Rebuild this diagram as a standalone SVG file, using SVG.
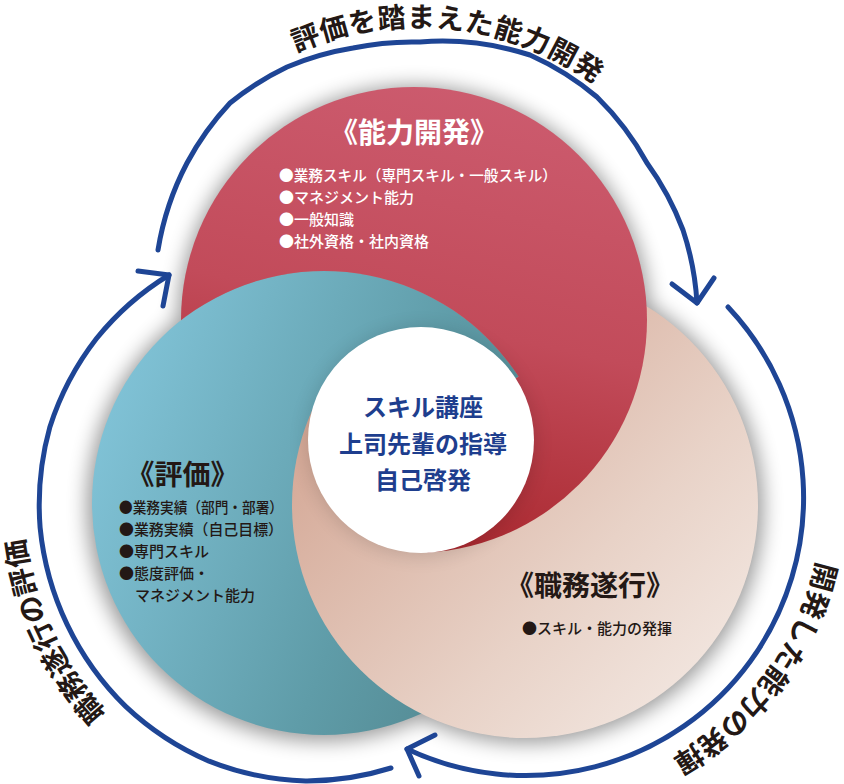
<svg xmlns="http://www.w3.org/2000/svg" width="844" height="784" viewBox="0 0 844 784">
<style>
.lbl{font-family:"Noto Sans CJK JP","Noto Sans",sans-serif;font-weight:700;font-size:28px;fill:#231815}
.ttl{font-family:"Noto Sans CJK JP","Noto Sans",sans-serif;font-weight:700;font-size:28px}
.bul{font-family:"Noto Sans CJK JP","Noto Sans",sans-serif;font-weight:500;font-size:15px}
.ctr{font-family:"Noto Sans CJK JP","Noto Sans",sans-serif;font-weight:700;font-size:24px;fill:#1e3e8e;text-anchor:middle}
.arc{fill:none;stroke:#1e4595;stroke-width:5;stroke-linecap:round;stroke-linejoin:round}
</style>
<defs>
<linearGradient id="gRed" gradientUnits="userSpaceOnUse" x1="480" y1="90" x2="380" y2="553">
<stop offset="0" stop-color="#cc5b6e"/><stop offset="0.5" stop-color="#c24b5a"/><stop offset="1" stop-color="#a8262c"/>
</linearGradient>
<linearGradient id="gBlue" gradientUnits="userSpaceOnUse" x1="100" y1="420" x2="560" y2="600">
<stop offset="0" stop-color="#80c2d6"/><stop offset="0.6" stop-color="#5f9ca8"/><stop offset="1" stop-color="#50848c"/>
</linearGradient>
<linearGradient id="gPink" gradientUnits="userSpaceOnUse" x1="330" y1="330" x2="720" y2="700">
<stop offset="0" stop-color="#d1a18e"/><stop offset="0.65" stop-color="#e8d2c7"/><stop offset="1" stop-color="#f3e8e2"/>
</linearGradient>
<filter id="blur" x="-20%" y="-20%" width="140%" height="140%"><feGaussianBlur stdDeviation="10"/></filter>
<clipPath id="wRed"><polygon points="421,440 806.8,189.5 881,440 746.3,765.3 447.5,899.2"/></clipPath>
<clipPath id="wTeal"><polygon points="421,440 30.9,196.2 191,41.6 421,-20 651,41.6 806.8,189.5"/></clipPath>
<mask id="mPink" maskUnits="userSpaceOnUse" x="0" y="0" width="844" height="784">
<rect width="844" height="784" fill="#fff"/>
<circle cx="414" cy="320" r="233" fill="#000" clip-path="url(#wTeal)"/>
</mask>
<mask id="mRed" maskUnits="userSpaceOnUse" x="0" y="0" width="844" height="784">
<rect width="844" height="784" fill="#fff"/>
<circle cx="324" cy="503" r="232" fill="#000"/>
<circle cx="525" cy="505" r="233" fill="#fff" clip-path="url(#wRed)"/>
</mask>
<path id="pTop" d="M115,330 A303,303 0 0 1 721,330"/>
<path id="pRight" d="M740.1,287.9 A300,300 0 0 1 315.9,712.1"/>
<path id="pLeft" d="M330,809 A307,307 0 0 1 330,195"/>
</defs>
<rect width="844" height="784" fill="#fff"/>
<g id="shadow" filter="url(#blur)" fill="#000" opacity="0.4">
<circle cx="414" cy="322" r="236"/>
<circle cx="322" cy="506" r="235"/>
<circle cx="527" cy="507" r="236"/>
</g>
<g id="node-hyoka">
<circle cx="324" cy="503" r="232" fill="url(#gBlue)"/>
<text class="ttl" x="182.5" y="485" text-anchor="middle" fill="#231815">《評価》</text>
<g class="bul" fill="#231815">
<text x="119" y="513" textLength="164" lengthAdjust="spacingAndGlyphs">●業務実績（部門・部署）</text>
<text x="119" y="535" textLength="164" lengthAdjust="spacingAndGlyphs">●業務実績（自己目標）</text>
<text x="119" y="557">●専門スキル</text>
<text x="119" y="579">●態度評価・</text>
<text x="135" y="601">マネジメント能力</text>
</g>
</g>
<g id="node-shokumu">
<circle cx="525" cy="505" r="233" fill="url(#gPink)" mask="url(#mPink)"/>
<text class="ttl" x="590" y="596" text-anchor="middle" fill="#231815">《職務遂行》</text>
<text class="bul" x="522" y="634" fill="#231815">●スキル・能力の発揮</text>
</g>
<g id="node-noryoku">
<circle cx="414" cy="320" r="233" fill="url(#gRed)" mask="url(#mRed)"/>
<text class="ttl" x="414" y="143" text-anchor="middle" fill="#fff">《能力開発》</text>
<g class="bul" fill="#fff">
<text x="279" y="181" textLength="278" lengthAdjust="spacingAndGlyphs">●業務スキル（専門スキル・一般スキル）</text>
<text x="279" y="203">●マネジメント能力</text>
<text x="279" y="225">●一般知識</text>
<text x="279" y="247">●社外資格・社内資格</text>
</g>
</g>
<g id="node-center">
<circle cx="421" cy="442" r="113" fill="#000" opacity="0.15" filter="url(#blur)"/>
<circle cx="421" cy="440" r="113" fill="#fff"/>
<text class="ctr" x="423" y="416">スキル講座</text>
<text class="ctr" x="423" y="453">上司先輩の指導</text>
<text class="ctr" x="423" y="489">自己啓発</text>
</g>
<g id="connectors">
<path class="arc" d="M158,250 A285,285 0 0 1 187,163 A285,285 0 0 1 230,103 A285,285 0 0 1 287,67 A285,285 0 0 1 353,48 A285,285 0 0 1 420,42 A285,285 0 0 1 530,55 A285,285 0 0 1 597,97 A285,285 0 0 1 647,163 A285,285 0 0 1 683,230 A285,285 0 0 1 697,303"/>
<polyline class="arc" points="672,284 697,303 714,278"/>
<path class="arc" d="M728,307 A278,278 0 0 1 407,749"/>
<polyline class="arc" points="435,735 407,749 419,776"/>
<path class="arc" d="M391,768 A280,280 0 0 1 305.6,780.9 A283,283 0 0 1 209.1,761.2 A287,287 0 0 1 125.6,706.4 A290,290 0 0 1 67.2,624.6 A290,290 0 0 1 40.1,527.4 A290,290 0 0 1 49.9,426.9 A287,287 0 0 1 96.5,338.5 A282,282 0 0 1 169,275"/>
<polyline class="arc" points="138,271 169,275 163,306"/>
</g>
<g id="labels">
<text class="lbl" letter-spacing="0.6"><textPath href="#pTop" startOffset="507.7" text-anchor="middle">評価を踏まえた能力開発</textPath></text>
<text class="lbl"><textPath href="#pRight" startOffset="421.5" text-anchor="middle">開発した能力の発揮</textPath></text>
<text class="lbl"><textPath href="#pLeft" startOffset="347.8" text-anchor="middle">職務遂行の評価</textPath></text>
</g>
</svg>
